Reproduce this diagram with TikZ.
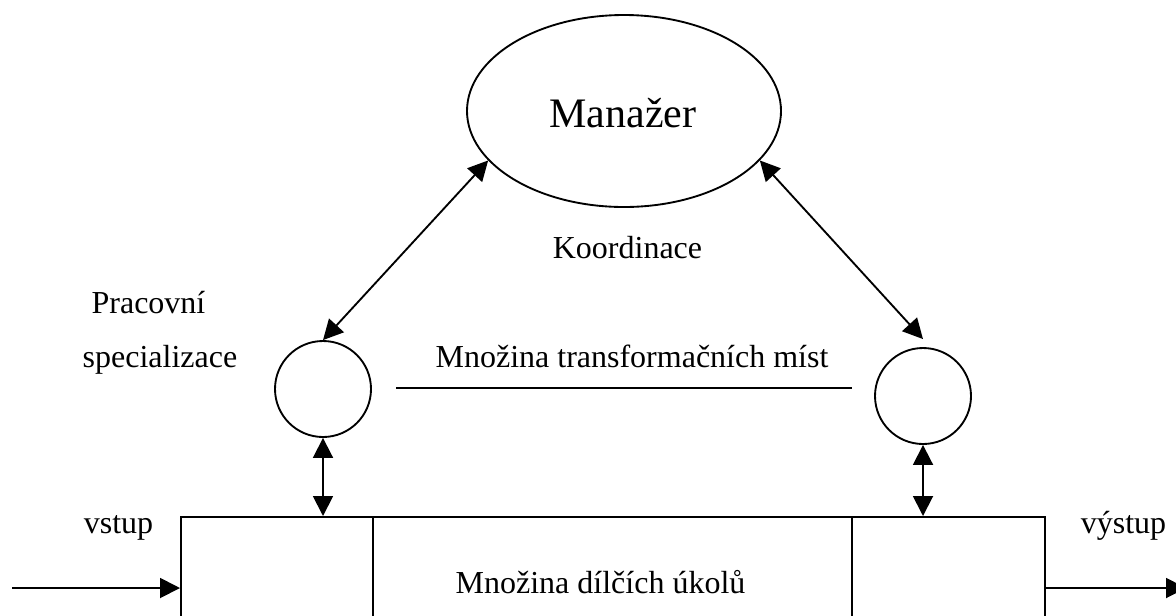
\documentclass[tikz,border=0pt]{standalone}
\usepackage{fontspec}
\setmainfont{Liberation Serif}
\usetikzlibrary{arrows.meta,shapes.geometric}
\begin{document}
\begin{tikzpicture}[x=0.75pt,y=-0.75pt,
  line/.style={line width=1.4pt},
  arr/.style={line, -{Triangle[length=15pt,width=15pt]}},
  darr/.style={line, {Triangle[length=15pt,width=15pt]}-{Triangle[length=15pt,width=15pt]}},
  txt/.style={font=\fontsize{24}{28}\selectfont, inner sep=0pt, anchor=base},
  circ/.style={circle, draw, line, minimum size=72pt, inner sep=0pt},
  part/.style={rectangle, draw, line, inner sep=0pt, anchor=north west}]
\useasboundingbox (0,0) rectangle (1176,615);
% manager
\node[ellipse, draw, line, minimum width=235.5pt, minimum height=144pt, inner sep=0pt] (man) at (624,111) {};
\node[txt, font=\fontsize{31.5}{36}\selectfont] (mantxt) at (623,127) {Manažer};
% circles
\node[circ] (lc) at (323,389) {};
\node[circ] (rc) at (923,396) {};
% task box
\node[part, minimum width=144pt, minimum height=93pt] (r1) at (180,516) {};
\node[part, minimum width=359.25pt, minimum height=93pt] (r2) at (372,516) {};
\node[part, minimum width=144.75pt, minimum height=93pt] (r3) at (851,516) {};
% texts
\node[txt] (koord) at (627.5,258) {Koordinace};
\node[txt] (prac) at (148.5,313) {Pracovní};
\node[txt] (spec) at (160,367) {specializace};
\node[txt] (mtm) at (632,367) {Množina transformačních míst};
\node[txt] (vstup) at (118.5,533) {vstup};
\node[txt] (vystup) at (1123.5,533) {výstup};
\node[txt] (mdu) at (600.5,593) {Množina dílčích úkolů};
% line under text
\coordinate (la) at (396,388);
\coordinate (lb) at (852,388);
\draw[line] (la) -- (lb);
% connectors
\draw[darr] (man.200) -- (lc.north);
\draw[darr] (man.340) -- ([yshift=6pt]rc.north);
\draw[darr] (lc.south) -- (lc.south |- r1.north);
\draw[darr] (rc.south) -- (rc.south |- r3.north);
\coordinate (inp) at (12,588);
\coordinate (outp) at (1186,588);
\draw[arr] (inp) -- (inp -| r1.west);
\draw[arr] (outp -| r3.east) -- (outp);
\end{tikzpicture}
\end{document}
